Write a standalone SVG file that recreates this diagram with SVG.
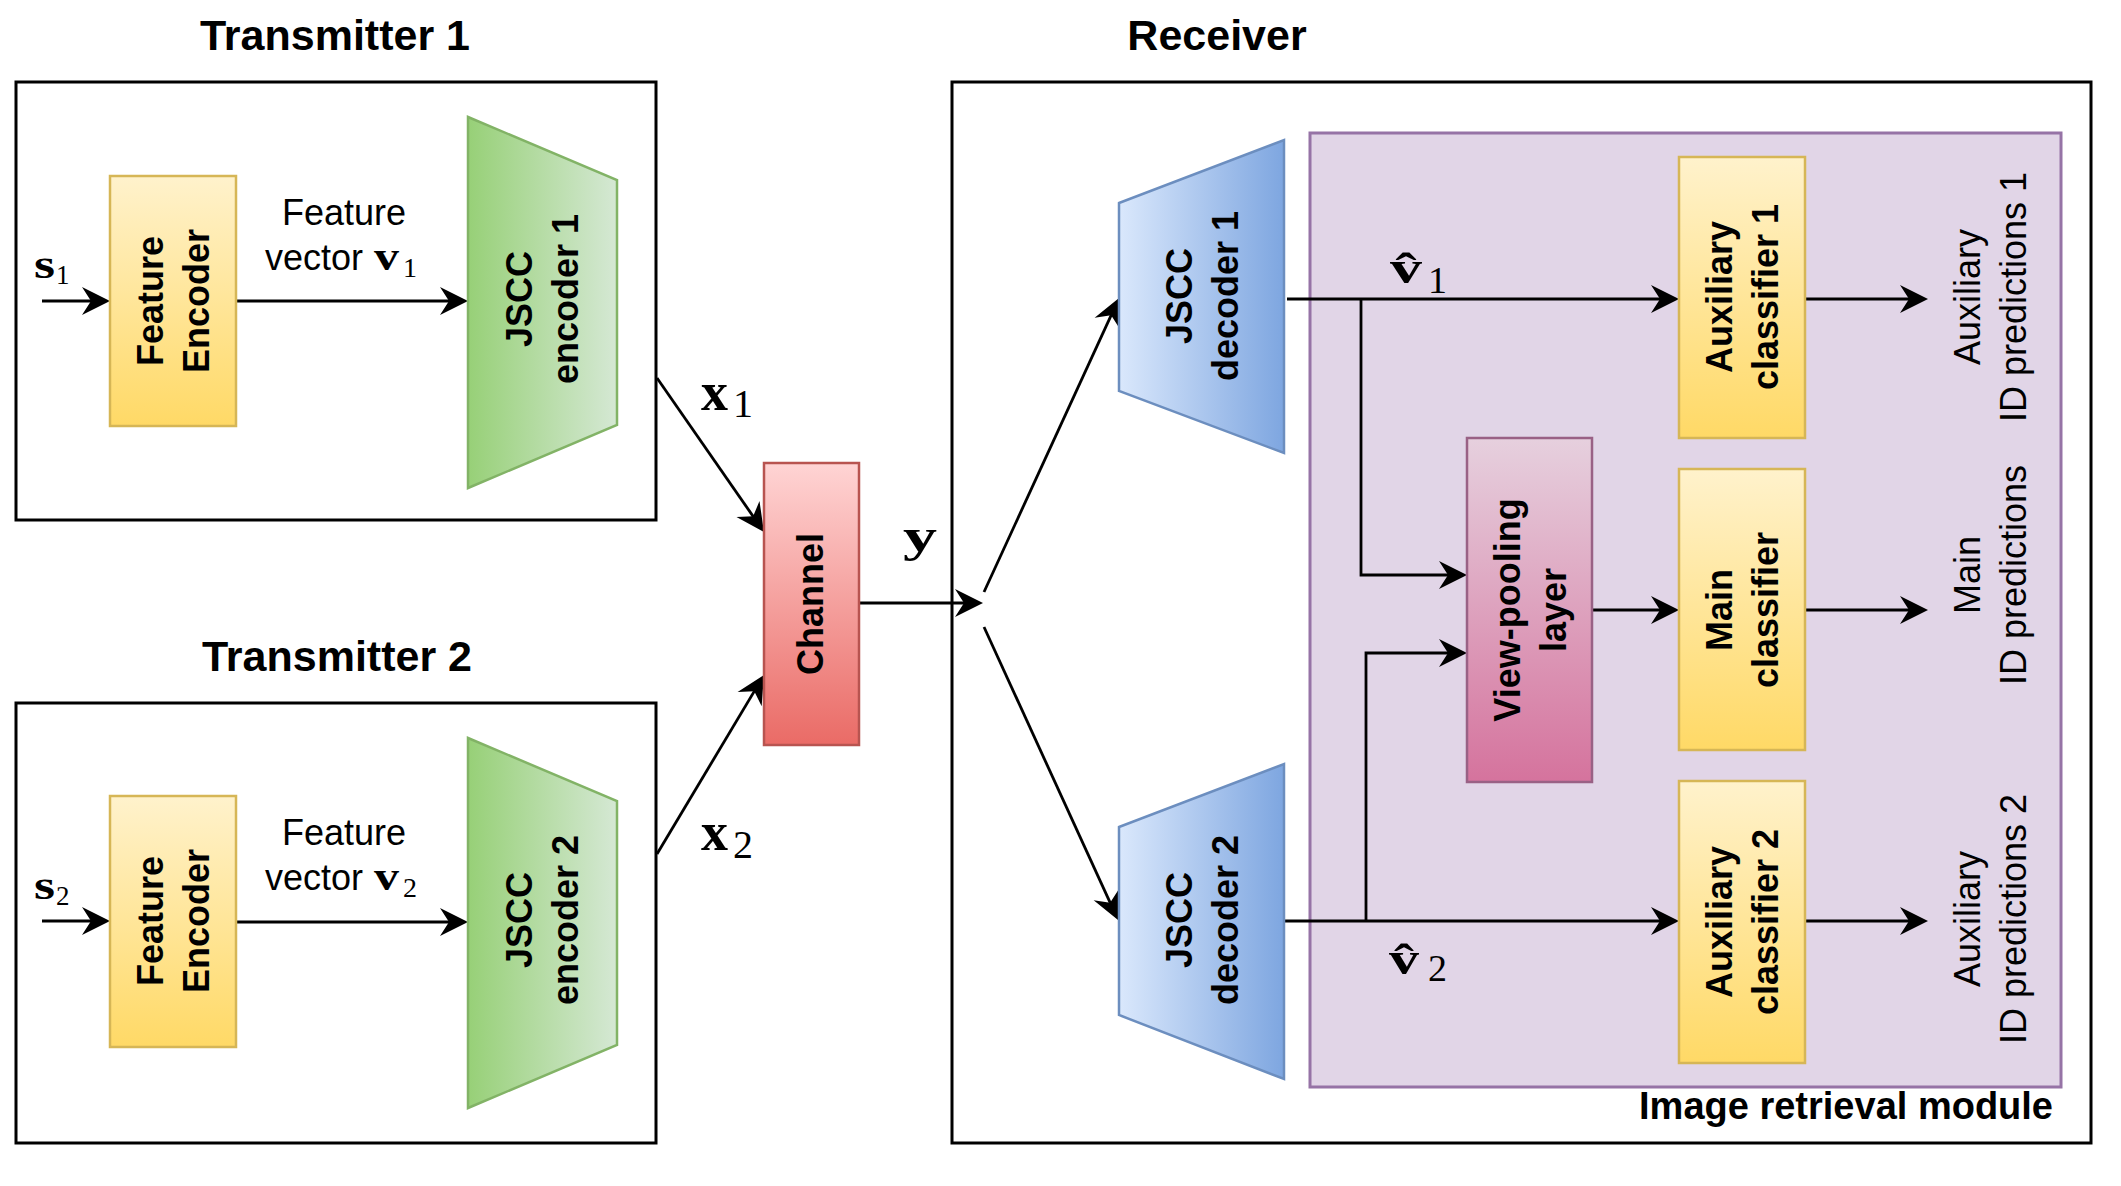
<svg xmlns="http://www.w3.org/2000/svg" width="2121" height="1186" viewBox="0 0 2121 1186">
<style>
.frame{fill:#ffffff;stroke:#000000;stroke-width:3}
.irm{fill:#e1d5e7;stroke:#9673a6;stroke-width:3}
.yel{fill:url(#gYellow);stroke:#d6b656;stroke-width:2.5}
.enc{fill:url(#gGreen);stroke:#82b366;stroke-width:2.5}
.dec{fill:url(#gBlue);stroke:#6c8ebf;stroke-width:2.5}
.chan{fill:url(#gRed);stroke:#b85450;stroke-width:2.5}
.vp{fill:url(#gPink);stroke:#996185;stroke-width:2.5}
.edge{fill:none;stroke:#000000;stroke-width:2.8;marker-end:url(#arrow)}
.title{font-family:"Liberation Sans",Arial,sans-serif;font-weight:bold;font-size:43px;fill:#000000}
.lb{font-family:"Liberation Sans",Arial,sans-serif;font-weight:bold;font-size:36px;fill:#000000;text-anchor:middle}
.lr{font-family:"Liberation Sans",Arial,sans-serif;font-size:36px;fill:#000000;text-anchor:middle}
.txt{font-family:"Liberation Sans",Arial,sans-serif;font-size:36px;fill:#000000}
.mb{font-family:"Liberation Serif","Times New Roman",serif;font-weight:bold;fill:#000000}
.sub{font-family:"Liberation Serif","Times New Roman",serif;font-weight:normal;fill:#000000}
</style>
<defs>
<linearGradient id="gYellow" x1="0" y1="0" x2="0" y2="1"><stop offset="0" stop-color="#fff2cc"/><stop offset="1" stop-color="#ffd966"/></linearGradient>
<linearGradient id="gGreen" x1="0" y1="0" x2="1" y2="0"><stop offset="0" stop-color="#97d077"/><stop offset="1" stop-color="#d5e8d4"/></linearGradient>
<linearGradient id="gBlue" x1="0" y1="0" x2="1" y2="0"><stop offset="0" stop-color="#dae8fc"/><stop offset="1" stop-color="#7ea6e0"/></linearGradient>
<linearGradient id="gRed" x1="0" y1="0" x2="0" y2="1"><stop offset="0" stop-color="#ffd4d4"/><stop offset="1" stop-color="#ea6b66"/></linearGradient>
<linearGradient id="gPink" x1="0" y1="0" x2="0" y2="1"><stop offset="0" stop-color="#e6d0de"/><stop offset="1" stop-color="#d5739d"/></linearGradient>
<marker id="arrow" markerUnits="userSpaceOnUse" viewBox="-30 -16 40 32" markerWidth="40" markerHeight="32" refX="-8" refY="0" orient="auto" overflow="visible">
<path d="M0,0 L-28,-14 L-19,0 L-28,14 Z" fill="#000000"/>
</marker>
</defs>
<rect width="2121" height="1186" fill="#ffffff"/>

<g id="transmitter1">
<rect class="frame" x="16" y="82" width="640" height="438"/>
<text class="title" x="335" y="50" text-anchor="middle">Transmitter 1</text>
</g>
<g id="transmitter2">
<rect class="frame" x="16" y="703" width="640" height="440"/>
<text class="title" x="337" y="671" text-anchor="middle">Transmitter 2</text>
</g>
<g id="receiver">
<rect class="frame" x="952" y="82" width="1139" height="1061"/>
<text class="title" x="1217" y="50" text-anchor="middle">Receiver</text>
</g>
<g id="image-retrieval-module">
<rect class="irm" x="1310" y="133" width="751" height="954"/>
<text class="lb" x="2053" y="1119" style="text-anchor:end;font-size:38px">Image retrieval module</text>
</g>

<g id="connectors">
<path class="edge" d="M42,301 H102"/>
<path class="edge" d="M236,301 H460"/>
<path class="edge" d="M42,921 H102"/>
<path class="edge" d="M236,922 H460"/>
<path class="edge" d="M657,378 L759.4,525.4"/>
<path class="edge" d="M657,854 L759.9,681.9"/>
<path class="edge" d="M859,603 H975"/>
<path class="edge" d="M984,592 L1115.7,305.3"/>
<path class="edge" d="M984,627 L1114.7,912.7"/>
<path class="edge" d="M1287,299 H1671"/>
<path class="edge" d="M1361,299 V575 H1459"/>
<path class="edge" d="M1284,921 H1671"/>
<path class="edge" d="M1366,921 V653 H1459"/>
<path class="edge" d="M1592,610 H1671"/>
<path class="edge" d="M1805,299 H1920"/>
<path class="edge" d="M1805,610 H1920"/>
<path class="edge" d="M1805,921 H1920"/>
<text class="mb" x="34" y="278" font-size="40"><tspan textLength="21" lengthAdjust="spacingAndGlyphs">s</tspan><tspan class="sub" x="56" y="284" font-size="27">1</tspan></text>
<text class="mb" x="34" y="899" font-size="40"><tspan textLength="21" lengthAdjust="spacingAndGlyphs">s</tspan><tspan class="sub" x="56" y="905" font-size="27">2</tspan></text>
<text class="txt" x="344" y="225" text-anchor="middle">Feature</text>
<text class="txt" x="265" y="270">vector</text>
<text class="mb" x="374" y="270" font-size="40"><tspan textLength="25" lengthAdjust="spacingAndGlyphs">v</tspan><tspan class="sub" x="403" y="277" font-size="28">1</tspan></text>
<text class="txt" x="344" y="845" text-anchor="middle">Feature</text>
<text class="txt" x="265" y="890">vector</text>
<text class="mb" x="374" y="890" font-size="40"><tspan textLength="25" lengthAdjust="spacingAndGlyphs">v</tspan><tspan class="sub" x="403" y="897" font-size="28">2</tspan></text>
<text class="mb" x="701" y="410" font-size="54">x<tspan class="sub" x="733" y="417" font-size="40">1</tspan></text>
<text class="mb" x="701" y="850" font-size="54">x<tspan class="sub" x="733" y="858" font-size="40">2</tspan></text>
<text class="mb" x="903" y="551" font-size="46" textLength="34" lengthAdjust="spacingAndGlyphs">y</text>
<text class="mb" x="1390" y="283" font-size="46"><tspan textLength="32" lengthAdjust="spacingAndGlyphs">v̂</tspan><tspan class="sub" x="1428" y="293" font-size="38">1</tspan></text>
<text class="mb" x="1389" y="974" font-size="46"><tspan textLength="30" lengthAdjust="spacingAndGlyphs">v̂</tspan><tspan class="sub" x="1428" y="981" font-size="38">2</tspan></text>
</g>

<g id="feature-encoder-1">
<rect class="yel" x="110" y="176" width="126" height="250"/>
<text class="lb" transform="translate(173,301) rotate(-90)"><tspan x="0" y="-10">Feature</tspan><tspan x="0" y="36">Encoder</tspan></text>
</g>
<g id="jscc-encoder-1">
<polygon class="enc" points="468,117 617,180 617,425 468,488"/>
<text class="lb" transform="translate(542,299) rotate(-90)"><tspan x="0" y="-10">JSCC</tspan><tspan x="0" y="36">encoder 1</tspan></text>
</g>
<g id="feature-encoder-2">
<rect class="yel" x="110" y="796" width="126" height="251"/>
<text class="lb" transform="translate(173,921) rotate(-90)"><tspan x="0" y="-10">Feature</tspan><tspan x="0" y="36">Encoder</tspan></text>
</g>
<g id="jscc-encoder-2">
<polygon class="enc" points="468,738 617,801 617,1045 468,1108"/>
<text class="lb" transform="translate(542,920) rotate(-90)"><tspan x="0" y="-10">JSCC</tspan><tspan x="0" y="36">encoder 2</tspan></text>
</g>
<g id="channel">
<rect class="chan" x="764" y="463" width="95" height="282"/>
<text class="lb" transform="translate(811,604) rotate(-90)"><tspan x="0" y="12">Channel</tspan></text>
</g>
<g id="jscc-decoder-1">
<polygon class="dec" points="1119,203 1284,140 1284,453 1119,391"/>
<text class="lb" transform="translate(1202,296) rotate(-90)"><tspan x="0" y="-10">JSCC</tspan><tspan x="0" y="36">decoder 1</tspan></text>
</g>
<g id="jscc-decoder-2">
<polygon class="dec" points="1119,827 1284,764 1284,1079 1119,1015"/>
<text class="lb" transform="translate(1202,920) rotate(-90)"><tspan x="0" y="-10">JSCC</tspan><tspan x="0" y="36">decoder 2</tspan></text>
</g>
<g id="view-pooling-layer">
<rect class="vp" x="1467" y="438" width="125" height="344"/>
<text class="lb" transform="translate(1530,610) rotate(-90)"><tspan x="0" y="-10">View-pooling</tspan><tspan x="0" y="36">layer</tspan></text>
</g>
<g id="auxiliary-classifier-1">
<rect class="yel" x="1679" y="157" width="126" height="281"/>
<text class="lb" transform="translate(1742,297) rotate(-90)"><tspan x="0" y="-10">Auxiliary</tspan><tspan x="0" y="36">classifier 1</tspan></text>
</g>
<g id="main-classifier">
<rect class="yel" x="1679" y="469" width="126" height="281"/>
<text class="lb" transform="translate(1742,610) rotate(-90)"><tspan x="0" y="-10">Main</tspan><tspan x="0" y="36">classifier</tspan></text>
</g>
<g id="auxiliary-classifier-2">
<rect class="yel" x="1679" y="781" width="126" height="282"/>
<text class="lb" transform="translate(1742,922) rotate(-90)"><tspan x="0" y="-10">Auxiliary</tspan><tspan x="0" y="36">classifier 2</tspan></text>
</g>
<g id="aux-predictions-1">
<text class="lr" transform="translate(1991,297) rotate(-90)"><tspan x="0" y="-11">Auxiliary</tspan><tspan x="0" y="35">ID predictions 1</tspan></text>
</g>
<g id="main-predictions">
<text class="lr" transform="translate(1991,575) rotate(-90)"><tspan x="0" y="-11">Main</tspan><tspan x="0" y="35">ID predictions</tspan></text>
</g>
<g id="aux-predictions-2">
<text class="lr" transform="translate(1991,919) rotate(-90)"><tspan x="0" y="-11">Auxiliary</tspan><tspan x="0" y="35">ID predictions 2</tspan></text>
</g>
</svg>
